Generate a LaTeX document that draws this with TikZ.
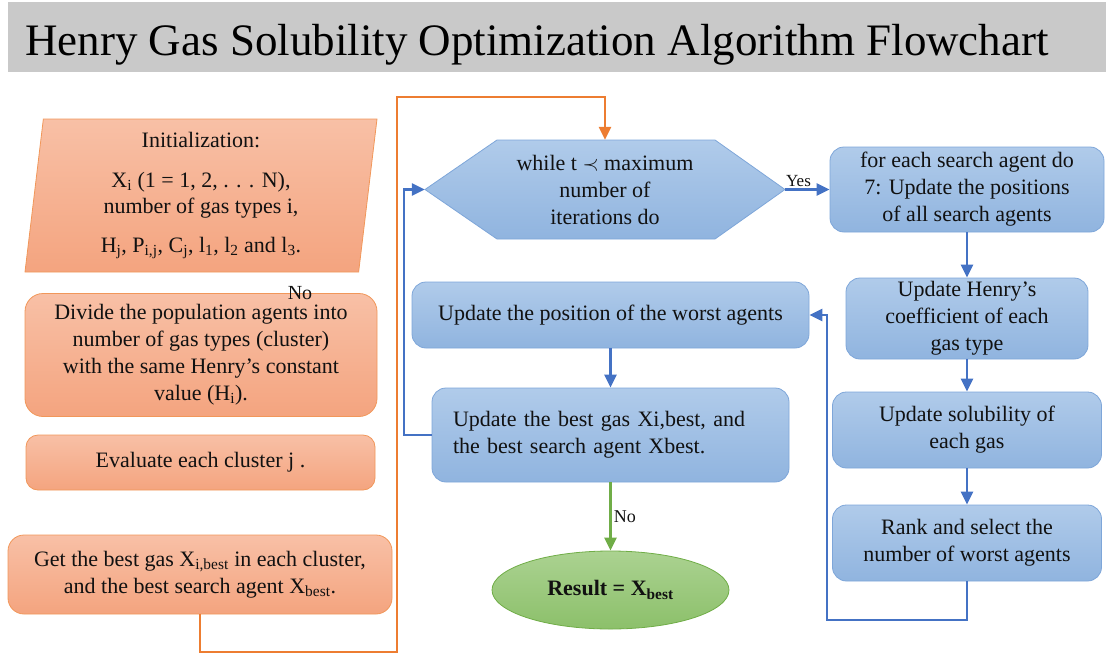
\documentclass[tikz,border=0pt]{standalone}
\usepackage{fontspec}
\setmainfont{Liberation Serif}
\usepackage{tikz}
\usetikzlibrary{positioning, arrows.meta, shapes.geometric}
\definecolor{cTitleBar}  {HTML}{C9C9C9}
\definecolor{cOrangeTop} {HTML}{F8C0A6}
\definecolor{cOrangeBot} {HTML}{F4A47F}
\definecolor{cOrangeLine}{HTML}{ED7D31}
\definecolor{cBlueTop}   {HTML}{B0CBEA}
\definecolor{cBlueBot}   {HTML}{90B4DF}
\definecolor{cBlueEdge}  {HTML}{7EA6D9}
\definecolor{cBlueLine}  {HTML}{4472C4}
\definecolor{cGreenTop}  {HTML}{ABD291}
\definecolor{cGreenBot}  {HTML}{8CC06A}
\definecolor{cGreenLine} {HTML}{70AD47}
\definecolor{cText}      {HTML}{111111}
\tikzset{
  boxtext/.style={font=\fontsize{22}{27}\selectfont, text=cText, align=center, inner sep=2pt},
  orangebox/.style={boxtext, draw=cOrangeLine!80, line width=0.8pt,
    top color=cOrangeTop, bottom color=cOrangeBot, rounded corners=18pt},
  inputbox/.style={boxtext, draw=cOrangeLine!80, line width=0.8pt,
    top color=cOrangeTop, bottom color=cOrangeBot, trapezium,
    trapezium left angle=82, trapezium right angle=98, trapezium stretches body},
  bluebox/.style={boxtext, draw=cBlueEdge, line width=0.8pt,
    top color=cBlueTop, bottom color=cBlueBot, rounded corners=14pt},
  hexfill/.style={draw=cBlueEdge, line width=0.8pt, top color=cBlueTop, bottom color=cBlueBot},
  endbox/.style={boxtext, draw=cGreenLine, line width=0.8pt,
    top color=cGreenTop, bottom color=cGreenBot, ellipse},
  lbl/.style={text=cText, inner sep=2pt},
  orangeflow/.style={draw=cOrangeLine, line width=2.6pt, -{Triangle[length=13pt,width=12pt]}},
  blueflow/.style={draw=cBlueLine, line width=2.6pt, -{Triangle[length=13pt,width=12pt]}},
  greenflow/.style={draw=cGreenLine, line width=2.6pt, -{Triangle[length=13pt,width=12pt]}},
}
\begin{document}
\begin{tikzpicture}[x=1pt, y=-1pt]
  \useasboundingbox (0,0) rectangle (1106,654);
  % title bar
  \node[fill=cTitleBar, minimum width=1098pt, minimum height=70pt, inner sep=0pt] (titleBar) at (557,37) {};
  \node[font=\fontsize{45}{50}\selectfont, anchor=base west, inner sep=0pt] (titleText) at (25,55)
    {Henry Gas Solubility Optimization Algorithm Flowchart};

  % left column: set-up steps
  \node[inputbox, minimum width=352pt, minimum height=153pt, font=\fontsize{22}{26}\selectfont] (init) at (201,195.5)
    {Initialization:\\[14pt]
     X\textsubscript{i} (1 = 1, 2, . . . N),\\
     number of gas types i,\\[13pt]
     H\textsubscript{j}, P\textsubscript{i,j}, C\textsubscript{j}, l\textsubscript{1}, l\textsubscript{2} and l\textsubscript{3}.};
  \node[orangebox, minimum width=352pt, minimum height=123pt] (divide) at (201,355)
    {Divide the population agents into\\ number of gas types (cluster)\\ with the same Henry's constant\\ value (H\textsubscript{i}).};
  \node[orangebox, minimum width=349pt, minimum height=55pt, rounded corners=12pt] (evalClust) at (200.5,462.5)
    {Evaluate each cluster j .};
  \node[orangebox, minimum width=384pt, minimum height=79pt, rounded corners=16pt] (getBest) at (200,574.5)
    {Get the best gas X\textsubscript{i,best} in each cluster,\\ and the best search agent X\textsubscript{best}.};
  \node[lbl, font=\fontsize{20}{22}\selectfont, anchor=base, inner sep=0pt] (noTop) at (300,299) {No};

  % main loop: hexagon drawn behind its text node
  \shadedraw[hexfill] (425,189.5) -- (497,140) -- (715,140) -- (785,189.5) -- (715,239) -- (497,239) -- cycle;
  \node[boxtext, minimum width=360pt, minimum height=99pt] (whileHex) at (605,189.5)
    {while t $\prec$ maximum\\ number of\\ iterations do};
  \node[bluebox, minimum width=274pt, minimum height=85pt] (forEach) at (967,189.5)
    {for each search agent do\\ 7: Update the positions\\ of all search agents};
  \node[bluebox, minimum width=242pt, minimum height=81pt] (henryCoef) at (967,318.5)
    {Update Henry's\\ coefficient of each\\ gas type};
  \node[bluebox, minimum width=269pt, minimum height=76pt] (solub) at (967,430)
    {Update solubility of\\ each gas};
  \node[bluebox, minimum width=269pt, minimum height=76pt] (rankWorst) at (967,543)
    {Rank and select the\\ number of worst agents};
  \node[bluebox, minimum width=397pt, minimum height=66pt] (updWorst) at (610.5,315)
    {Update the position of the worst agents};
  \node[bluebox, minimum height=94pt, text width=315pt, inner xsep=21pt, align=left] (updBest) at (610.5,435)
    {Update the best gas Xi,best, and\\ the best search agent Xbest.};
  \node[endbox, minimum width=237pt, minimum height=78pt] (result) at (610.5,590)
    {\textbf{Result = X\textsubscript{best}}};

  % connectors
  \coordinate (loopBot) at (397,652);
  \coordinate (loopTop) at (397,97);
  \draw[orangeflow] (getBest.south) |- (loopBot) -- (loopTop) -| (whileHex.north);
  \draw[blueflow] (whileHex.east) -- node[lbl, above, pos=0.3, font=\fontsize{17}{20}\selectfont] (yesLbl) {Yes} (forEach.west);
  \draw[blueflow] (forEach.south) -- (henryCoef.north);
  \draw[blueflow] (henryCoef.south) -- (solub.north);
  \draw[blueflow] (solub.south) -- (rankWorst.north);
  \coordinate (rankLoop) at (827,620);
  \draw[blueflow] (rankWorst.south) |- (rankLoop) |- (updWorst.east);
  \draw[blueflow] (updWorst.south) -- (updBest.north);
  \coordinate (bestLoop) at (404,435);
  \draw[blueflow] (updBest.west) -- (bestLoop) |- (whileHex.west);
  \draw[greenflow] (updBest.south) -- node[lbl, right, font=\fontsize{18}{20}\selectfont] (noLbl) {No} (result.north);
\end{tikzpicture}
\end{document}
